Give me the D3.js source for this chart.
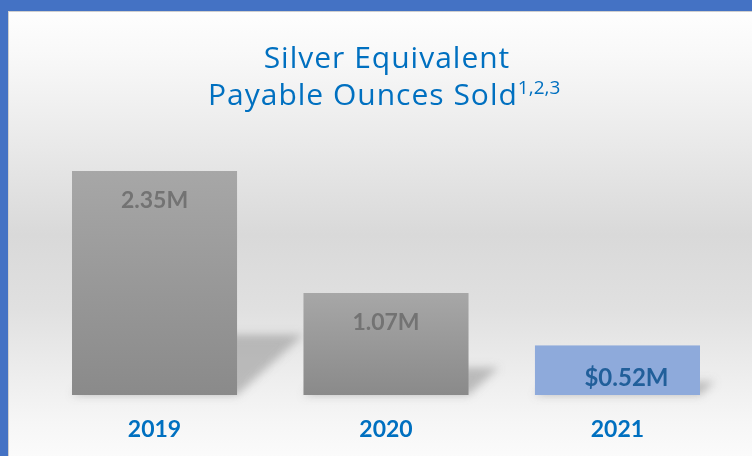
<!DOCTYPE html>
<html>
<head>
<meta charset="utf-8">
<style>
  body { margin: 0; background: #4472c4; }
  svg { display: block; }
  text { font-family: Lato, "Open Sans", sans-serif; }
  .title text { font-family: "Open Sans", Lato, sans-serif; letter-spacing: 1px; }
</style>
</head>
<body>
<div id="chart"></div>
<script src="https://cdn.jsdelivr.net/npm/d3@7"></script>
<script>
  const years = ["2019", "2020", "2021"];
  const values = [2.35, 1.07, 0.52];
  const valueLabels = ["2.35M", "1.07M", "$0.52M"];
  const titleLines = ["Silver Equivalent", "Payable Ounces Sold"];
  const titleNote = "1,2,3";

  const width = 752, height = 456;
  const baseY = 395;

  const svg = d3.select("#chart").append("svg")
      .attr("width", width)
      .attr("height", height);

  const defs = svg.append("defs");

  // panel background: white -> grey -> white
  const bg = defs.append("linearGradient")
      .attr("id", "bg").attr("x1", 0).attr("y1", 0).attr("x2", 0).attr("y2", 1);
  [[0, "#fefefe"], [0.1, "#f8f8f8"], [0.27, "#ebebeb"], [0.49, "#d9d9d9"],
   [0.65, "#e0e0e0"], [0.76, "#eaeaea"], [0.9, "#f6f6f6"], [1, "#fcfcfc"]]
    .forEach(s => bg.append("stop").attr("offset", s[0]).attr("stop-color", s[1]));

  const barGrad = defs.append("linearGradient")
      .attr("id", "barGrad").attr("x1", 0).attr("y1", 0).attr("x2", 0).attr("y2", 1);
  barGrad.append("stop").attr("offset", 0).attr("stop-color", "#a7a7a7");
  barGrad.append("stop").attr("offset", 1).attr("stop-color", "#8a8a8a");

  defs.append("filter").attr("id", "blur")
      .attr("x", "-30%").attr("y", "-30%").attr("width", "160%").attr("height", "160%")
    .append("feGaussianBlur").attr("stdDeviation", 4);

  // blue frame + panel
  svg.append("rect").attr("width", width).attr("height", height).attr("fill", "#4472c4");
  svg.append("rect")
      .attr("x", 8.5).attr("y", 11.5)
      .attr("width", width).attr("height", height)
      .attr("fill", "url(#bg)")
      .attr("stroke", "#cfcfcf").attr("stroke-width", 1);

  const x = d3.scaleBand()
      .domain(years)
      .range([72, 700])
      .paddingInner(0.287)
      .paddingOuter(0);

  const y = d3.scaleLinear()
      .domain([0, 2.35])
      .range([baseY, 171]);

  // soft floor shadows behind the bars
  svg.append("g").attr("filter", "url(#blur)")
    .selectAll("path")
    .data(values)
    .join("path")
      .attr("fill", "#8f8f8f")
      .attr("opacity", 0.55)
      .attr("d", (d, i) => {
        const x0 = x(years[i]), x1 = x0 + x.bandwidth();
        const sh = (baseY - y(d)) * 0.27;
        const dx = sh * 1.1;
        return `M${x0},${baseY}L${x1},${baseY}L${x1 + dx},${baseY - sh}L${x0 + dx},${baseY - sh}Z`;
      });

  const last = years.length - 1;

  svg.append("g")
    .selectAll("rect")
    .data(values)
    .join("rect")
      .attr("x", (d, i) => x(years[i]))
      .attr("y", d => y(d))
      .attr("width", x.bandwidth())
      .attr("height", d => baseY - y(d))
      .attr("fill", (d, i) => i === last ? "#8eaadb" : "url(#barGrad)");

  // value labels inside bars
  svg.append("g")
    .selectAll("text")
    .data(values)
    .join("text")
      .attr("x", (d, i) => x(years[i]) + x.bandwidth() / 2 + (i === last ? 9 : 0))
      .attr("y", (d, i) => y(d) + (i === last ? 41 : 37))
      .attr("text-anchor", "middle")
      .attr("font-weight", "bold")
      .attr("font-size", (d, i) => i === last ? 24 : 23)
      .attr("fill", (d, i) => i === last ? "#215f9a" : "#737373")
      .text((d, i) => valueLabels[i]);

  // category labels
  svg.append("g")
    .selectAll("text")
    .data(years)
    .join("text")
      .attr("x", d => x(d) + x.bandwidth() / 2)
      .attr("y", 437)
      .attr("text-anchor", "middle")
      .attr("font-weight", "bold")
      .attr("font-size", 23)
      .attr("fill", "#0070c0")
      .text(d => d);

  // title
  const title = svg.append("g").attr("class", "title").attr("fill", "#0070c0");
  title.append("text")
      .attr("x", 387).attr("y", 68)
      .attr("text-anchor", "middle")
      .attr("font-size", 30)
      .text(titleLines[0]);
  const t2 = title.append("text")
      .attr("x", 208).attr("y", 105)
      .attr("font-size", 30);
  t2.append("tspan").text(titleLines[1]);
  t2.append("tspan")
      .attr("font-size", 19)
      .attr("dy", -11)
      .attr("letter-spacing", 0)
      .text(titleNote);
</script>
</body>
</html>
